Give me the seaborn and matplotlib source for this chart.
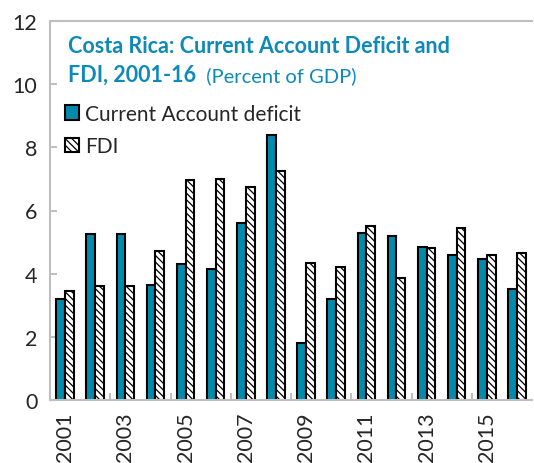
import matplotlib
matplotlib.use("Agg")
import matplotlib.pyplot as plt
import pandas as pd
import seaborn as sns

years = ["2001", "2002", "2003", "2004", "2005", "2006", "2007", "2008",
         "2009", "2010", "2011", "2012", "2013", "2014", "2015", "2016"]
ca_deficit = [3.2, 5.25, 5.25, 3.65, 4.3, 4.15, 5.6, 8.4,
              1.8, 3.2, 5.3, 5.2, 4.85, 4.6, 4.45, 3.5]
fdi = [3.45, 3.6, 3.6, 4.72, 6.95, 7.0, 6.75, 7.25,
       4.35, 4.2, 5.5, 3.85, 4.8, 5.45, 4.6, 4.65]
series = ["Current Account deficit", "FDI"]

teal = "#008BAD"
title_blue = "#0E8AB9"
grey = "#BFBFBF"

df = pd.DataFrame({
    "year": years * 2,
    "value": ca_deficit + fdi,
    "series": [series[0]] * len(years) + [series[1]] * len(years),
})

sns.set_theme(style="white")
plt.rcParams["font.family"] = ["Lato", "DejaVu Sans"]
plt.rcParams["hatch.linewidth"] = 0.9
plt.rcParams["hatch.color"] = "#707070"

fig = plt.figure(figsize=(5.34, 4.64), dpi=100)
ax = fig.add_axes([50 / 534, 1 - 401 / 464, 482 / 534, 379 / 464])

sns.barplot(data=df, x="year", y="value", hue="series", hue_order=series,
            palette=[teal, "white"], width=0.58, gap=0, saturation=1,
            edgecolor="black", linewidth=1.5, legend=False, ax=ax)

for bar in ax.containers[1]:
    bar.set_hatch("\\\\\\\\\\")

ax.set_xlim(-0.5, len(years) - 0.5)
ax.set_ylim(0, 12)
ax.set_yticks(range(0, 13, 2))
ax.set_xlabel("")
ax.set_ylabel("")

# labels on odd years, tick marks between pairs
ax.set_xticks(range(0, len(years), 2))
ax.set_xticklabels(years[::2], rotation=90, fontsize=15.5)
ax.set_xticks([i + 1.5 for i in range(0, len(years) - 2, 2)], minor=True)
ax.tick_params(axis="x", which="major", length=0, pad=8)
ax.tick_params(axis="x", which="minor", direction="in", length=5, width=1.5, color=grey, bottom=True)
ax.tick_params(axis="y", direction="in", length=5, width=1.5, color=grey, labelsize=15.5, pad=9, left=True)

for s in ["left", "bottom", "top"]:
    ax.spines[s].set_color(grey)
    ax.spines[s].set_linewidth(1.5)
ax.spines["right"].set_visible(False)

t1 = ax.text(0.037, 0.962, "Costa Rica: Current Account Deficit and",
             transform=ax.transAxes, fontsize=15.5, fontweight="bold",
             color=title_blue, va="top", ha="left")
t2 = ax.text(0.037, 0.888, "FDI, 2001-16", transform=ax.transAxes,
             fontsize=15.5, fontweight="bold", color=title_blue, va="top", ha="left")
ax.annotate("  (Percent of GDP)", xy=(1, 0), xycoords=t2, fontsize=14.5,
            color=title_blue, va="bottom", ha="left")

ax.legend(ax.containers, series, loc="upper left", bbox_to_anchor=(0.0, 0.82),
          frameon=False, fontsize=15, handlelength=0.7, handleheight=0.7,
          handletextpad=0.3, labelspacing=0.6, borderaxespad=0.3)

fig.savefig("out.png", dpi=100)
